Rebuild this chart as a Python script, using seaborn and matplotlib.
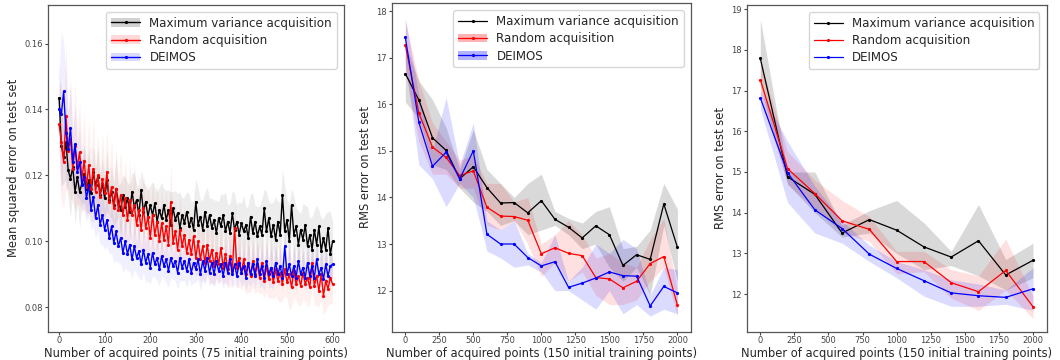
import numpy as np
import pandas as pd
import matplotlib
matplotlib.use("Agg")
import matplotlib.pyplot as plt
from matplotlib.patches import Patch
from matplotlib.lines import Line2D
import seaborn as sns

# ---------------- data ----------------
labels = ["Maximum variance acquisition", "Random acquisition", "DEIMOS"]
colors = ["black", "red", "blue"]

# Panel 1: x = 0..600 step 5
p1_x = list(range(0, 601, 5))
p1_maxvar = [
    0.1435, 0.1290, 0.1255, 0.1300, 0.1215, 0.1190, 0.1225, 0.1150, 0.1195, 0.1150,
    0.1175, 0.1205, 0.1160, 0.1185, 0.1145, 0.1210, 0.1170, 0.1195, 0.1140, 0.1175,
    0.1130, 0.1185, 0.1125, 0.1150, 0.1110, 0.1160, 0.1120, 0.1095, 0.1140, 0.1105,
    0.1130, 0.1090, 0.1150, 0.1105, 0.1125, 0.1080, 0.1155, 0.1090, 0.1120, 0.1075,
    0.1110, 0.1080, 0.1115, 0.1060, 0.1095, 0.1070, 0.1110, 0.1065, 0.1095, 0.1050,
    0.1100, 0.1065, 0.1085, 0.1040, 0.1080, 0.1055, 0.1090, 0.1045, 0.1070, 0.1035,
    0.1120, 0.1050, 0.1075, 0.1035, 0.1090, 0.1045, 0.1080, 0.1040, 0.1065, 0.1025,
    0.1070, 0.1045, 0.1080, 0.1030, 0.1060, 0.1025, 0.1085, 0.1035, 0.1060, 0.1020,
    0.1055, 0.1030, 0.1050, 0.1010, 0.1075, 0.1025, 0.1060, 0.1015, 0.1045, 0.1020,
    0.1100, 0.1030, 0.1070, 0.1015, 0.1050, 0.1005, 0.1060, 0.1020, 0.1140, 0.1030,
    0.1065, 0.1000, 0.1110, 0.1020, 0.1045, 0.0990, 0.1035, 0.1005, 0.1050, 0.0985,
    0.1020, 0.0975, 0.1035, 0.0990, 0.1045, 0.0970, 0.1010, 0.0975, 0.1040, 0.0960,
    0.1000]
p1_random = [
    0.1355, 0.1300, 0.1240, 0.1380, 0.1275, 0.1310, 0.1220, 0.1290, 0.1225, 0.1270,
    0.1190, 0.1245, 0.1165, 0.1230, 0.1160, 0.1220, 0.1150, 0.1200, 0.1135, 0.1190,
    0.1145, 0.1210, 0.1120, 0.1165, 0.1100, 0.1160, 0.1095, 0.1140, 0.1080, 0.1130,
    0.1065, 0.1125, 0.1080, 0.1110, 0.1050, 0.1095, 0.1035, 0.1100, 0.1040, 0.1075,
    0.1010, 0.1080, 0.1020, 0.1060, 0.1000, 0.1055, 0.1005, 0.1045, 0.0990, 0.1120,
    0.0995, 0.1030, 0.0975, 0.1035, 0.0985, 0.1020, 0.0965, 0.1005, 0.0960, 0.1015,
    0.0950, 0.1000, 0.0945, 0.0985, 0.0935, 0.0990, 0.0940, 0.0975, 0.0925, 0.0965,
    0.0930, 0.0980, 0.0920, 0.0960, 0.0915, 0.0955, 0.0910, 0.1040, 0.0920, 0.0950,
    0.0905, 0.0945, 0.0900, 0.0935, 0.0895, 0.0940, 0.0900, 0.0930, 0.0890, 0.0935,
    0.0880, 0.0925, 0.0885, 0.0920, 0.0875, 0.0915, 0.0880, 0.0905, 0.0870, 0.0915,
    0.0875, 0.0900, 0.0860, 0.0910, 0.0870, 0.0895, 0.0865, 0.0905, 0.0870, 0.0890,
    0.0860, 0.0935, 0.0865, 0.0895, 0.0850, 0.0900, 0.0835, 0.0880, 0.0855, 0.0890,
    0.0870]
p1_deimos = [
    0.1400, 0.1385, 0.1455, 0.1330, 0.1280, 0.1345, 0.1240, 0.1295, 0.1210, 0.1240,
    0.1170, 0.1195, 0.1130, 0.1170, 0.1095, 0.1135, 0.1070, 0.1110, 0.1050, 0.1080,
    0.1035, 0.1065, 0.1010, 0.1045, 0.0995, 0.1030, 0.0985, 0.1010, 0.0965, 0.1000,
    0.0960, 0.0990, 0.0945, 0.0985, 0.0950, 0.0970, 0.0930, 0.0975, 0.0935, 0.0960,
    0.0920, 0.0965, 0.0930, 0.0950, 0.0915, 0.0955, 0.0925, 0.0945, 0.0910, 0.0950,
    0.0925, 0.0940, 0.0905, 0.0950, 0.0920, 0.0940, 0.0910, 0.0945, 0.0905, 0.0935,
    0.0915, 0.0945, 0.0900, 0.0940, 0.0910, 0.0950, 0.0905, 0.0935, 0.0900, 0.0940,
    0.0910, 0.0930, 0.0895, 0.0935, 0.0905, 0.0945, 0.0900, 0.0930, 0.0895, 0.0935,
    0.0905, 0.0925, 0.0890, 0.0935, 0.0900, 0.0930, 0.0895, 0.0945, 0.0900, 0.0925,
    0.0890, 0.0940, 0.0900, 0.0920, 0.0895, 0.0935, 0.0900, 0.0925, 0.0890, 0.0985,
    0.0900, 0.0930, 0.0895, 0.0925, 0.0890, 0.0940, 0.0900, 0.0920, 0.0890, 0.0935,
    0.0895, 0.0925, 0.0890, 0.0945, 0.0900, 0.0920, 0.0885, 0.0930, 0.0895, 0.0925,
    0.0930]
p1_maxvar_sd = [
    0.010, 0.012, 0.008, 0.011, 0.009, 0.012, 0.007, 0.010, 0.008, 0.011,
    0.006, 0.009, 0.007, 0.010, 0.006, 0.008, 0.005, 0.009, 0.006, 0.008,
    0.006, 0.009, 0.005, 0.008, 0.006, 0.010, 0.005, 0.008, 0.006, 0.009,
    0.005, 0.008, 0.006, 0.010, 0.005, 0.008, 0.006, 0.009, 0.005, 0.008,
    0.006, 0.010, 0.005, 0.009, 0.007, 0.011, 0.005, 0.009, 0.006, 0.010,
    0.005, 0.009, 0.006, 0.011, 0.005, 0.008, 0.006, 0.010, 0.005, 0.009,
    0.007, 0.011, 0.005, 0.009, 0.006, 0.012, 0.005, 0.009, 0.006, 0.010,
    0.005, 0.010, 0.006, 0.012, 0.005, 0.009, 0.007, 0.011, 0.005, 0.010,
    0.006, 0.011, 0.005, 0.010, 0.007, 0.012, 0.005, 0.009, 0.006, 0.011,
    0.006, 0.012, 0.005, 0.010, 0.007, 0.013, 0.006, 0.010, 0.008, 0.014,
    0.006, 0.011, 0.005, 0.012, 0.006, 0.010, 0.005, 0.011, 0.006, 0.012,
    0.005, 0.010, 0.006, 0.012, 0.005, 0.010, 0.006, 0.011, 0.005, 0.013,
    0.006]
p1_random_sd = [
    0.012, 0.018, 0.014, 0.022, 0.012, 0.018, 0.010, 0.020, 0.011, 0.016,
    0.010, 0.015, 0.009, 0.014, 0.010, 0.016, 0.008, 0.013, 0.009, 0.014,
    0.008, 0.013, 0.009, 0.015, 0.008, 0.012, 0.009, 0.014, 0.008, 0.012,
    0.008, 0.012, 0.007, 0.013, 0.008, 0.011, 0.007, 0.012, 0.008, 0.011,
    0.007, 0.011, 0.008, 0.012, 0.007, 0.010, 0.008, 0.011, 0.007, 0.012,
    0.007, 0.010, 0.006, 0.011, 0.007, 0.009, 0.006, 0.010, 0.007, 0.009,
    0.006, 0.009, 0.007, 0.010, 0.006, 0.009, 0.007, 0.010, 0.006, 0.008,
    0.006, 0.009, 0.005, 0.008, 0.006, 0.009, 0.005, 0.008, 0.006, 0.009,
    0.005, 0.008, 0.006, 0.009, 0.005, 0.008, 0.006, 0.008, 0.005, 0.009,
    0.005, 0.008, 0.006, 0.009, 0.005, 0.008, 0.006, 0.009, 0.005, 0.008,
    0.005, 0.011, 0.006, 0.008, 0.005, 0.009, 0.006, 0.008, 0.005, 0.009,
    0.005, 0.008, 0.006, 0.009, 0.005, 0.008, 0.006, 0.009, 0.005, 0.008,
    0.006]
p1_deimos_sd = [
    0.012, 0.025, 0.015, 0.018, 0.010, 0.014, 0.009, 0.012, 0.008, 0.011,
    0.007, 0.010, 0.007, 0.009, 0.006, 0.009, 0.006, 0.008, 0.006, 0.009,
    0.006, 0.008, 0.005, 0.008, 0.006, 0.009, 0.005, 0.008, 0.006, 0.008,
    0.005, 0.008, 0.006, 0.007, 0.005, 0.008, 0.005, 0.007, 0.006, 0.008,
    0.005, 0.007, 0.004, 0.007, 0.005, 0.006, 0.004, 0.007, 0.005, 0.006,
    0.004, 0.006, 0.005, 0.007, 0.004, 0.006, 0.005, 0.006, 0.004, 0.006,
    0.004, 0.006, 0.005, 0.006, 0.004, 0.005, 0.004, 0.006, 0.004, 0.005,
    0.004, 0.005, 0.004, 0.006, 0.004, 0.005, 0.004, 0.006, 0.004, 0.005,
    0.004, 0.005, 0.004, 0.006, 0.004, 0.005, 0.004, 0.005, 0.004, 0.006,
    0.004, 0.005, 0.004, 0.006, 0.004, 0.005, 0.004, 0.005, 0.004, 0.006,
    0.004, 0.005, 0.004, 0.006, 0.004, 0.005, 0.004, 0.005, 0.004, 0.006,
    0.004, 0.005, 0.004, 0.006, 0.004, 0.005, 0.004, 0.005, 0.004, 0.005,
    0.004]

# Panel 2: x = 0..2000 step 100
p2_x = list(range(0, 2001, 100))
p2_maxvar = [16.66, 16.09, 15.28, 15.01, 14.40, 14.66, 14.21, 13.88, 13.89, 13.67,
             13.93, 13.53, 13.36, 13.13, 13.39, 13.20, 12.54, 12.77, 12.67, 13.86, 12.93]
p2_maxvar_lo = [16.05, 15.70, 14.70, 14.60, 14.20, 13.90, 13.70, 13.40, 13.50, 13.20,
                13.30, 13.40, 13.20, 12.90, 13.00, 12.50, 12.20, 12.50, 11.90, 13.40, 12.20]
p2_maxvar_hi = [17.30, 16.50, 16.10, 15.50, 14.60, 15.45, 14.60, 14.30, 14.00, 14.30,
                14.50, 13.70, 13.55, 13.45, 13.70, 13.80, 12.90, 12.95, 13.30, 14.30, 13.75]
p2_random = [17.28, 15.81, 15.08, 14.86, 14.47, 14.57, 13.79, 13.60, 13.59, 13.51,
             12.79, 12.92, 12.80, 12.75, 12.28, 12.25, 12.06, 12.20, 12.58, 12.73, 11.69]
p2_random_lo = [16.70, 15.20, 14.50, 14.50, 14.20, 14.20, 13.40, 13.30, 13.50, 13.00,
                12.30, 12.60, 12.20, 12.40, 11.90, 11.70, 11.70, 11.80, 12.20, 12.50, 11.45]
p2_random_hi = [17.80, 16.50, 15.60, 15.20, 14.80, 14.90, 14.30, 14.30, 13.90, 14.00,
                13.00, 13.20, 13.50, 13.20, 12.70, 12.80, 12.60, 12.50, 13.10, 13.55, 12.00]
p2_deimos = [17.44, 15.61, 14.67, 14.97, 14.40, 15.00, 13.21, 13.00, 13.00, 12.71,
             12.53, 12.62, 12.07, 12.16, 12.27, 12.40, 12.32, 12.31, 11.67, 12.09, 11.95]
p2_deimos_lo = [16.90, 14.70, 14.40, 13.80, 14.30, 14.00, 12.85, 12.70, 12.50, 12.55,
                12.40, 12.00, 12.00, 11.80, 11.60, 12.00, 11.50, 11.70, 11.45, 11.60, 11.50]
p2_deimos_hi = [17.85, 16.20, 15.00, 16.15, 14.70, 15.60, 13.50, 13.30, 13.50, 12.80,
                12.60, 13.20, 12.20, 12.50, 13.00, 12.80, 13.10, 12.90, 11.90, 12.50, 12.45]

# Panel 3: x = 0..2000 step 200
p3_x = list(range(0, 2001, 200))
p3_maxvar = [17.79, 14.88, 14.45, 13.50, 13.83, 13.57, 13.16, 12.91, 13.31, 12.47, 12.83]
p3_maxvar_lo = [17.10, 14.70, 14.00, 13.40, 13.50, 13.00, 12.60, 12.70, 12.45, 12.10, 12.40]
p3_maxvar_hi = [18.75, 15.00, 15.00, 13.70, 14.05, 14.30, 13.75, 13.05, 14.20, 12.85, 13.25]
p3_random = [17.27, 15.08, 14.47, 13.80, 13.59, 12.80, 12.80, 12.28, 12.06, 12.58, 11.69]
p3_random_lo = [16.90, 14.70, 14.10, 13.50, 13.30, 12.50, 12.55, 11.90, 11.60, 12.10, 11.40]
p3_random_hi = [17.70, 15.50, 14.80, 14.30, 13.90, 13.05, 13.05, 12.60, 12.45, 13.35, 11.95]
p3_deimos = [16.82, 14.98, 14.07, 13.61, 12.98, 12.63, 12.33, 12.03, 11.96, 11.92, 12.13]
p3_deimos_lo = [16.55, 14.25, 13.50, 13.25, 12.80, 12.40, 11.95, 11.70, 11.70, 11.75, 11.60]
p3_deimos_hi = [17.00, 15.75, 14.65, 13.80, 13.20, 12.80, 12.60, 12.35, 12.25, 12.10, 12.65]

xlabel_1 = "Number of acquired points (75 initial training points)"
xlabel_23 = "Number of acquired points (150 initial training points)"
ylabel_1 = "Mean squared error on test set"
ylabel_23 = "RMS error on test set"

# ---------------- style ----------------
sns.set_theme(style="ticks")
plt.rcParams["font.family"] = ["DejaVu Sans"]
plt.rcParams["axes.edgecolor"] = "#555555"
plt.rcParams["axes.linewidth"] = 0.9
plt.rcParams["xtick.color"] = "#444444"
plt.rcParams["ytick.color"] = "#444444"
plt.rcParams["xtick.major.size"] = 2
plt.rcParams["ytick.major.size"] = 2
plt.rcParams["xtick.major.pad"] = 1.5
plt.rcParams["ytick.major.pad"] = 1.5

TICK_FS = 6.0
LABEL_FS = 8.3
LEG_FS = 8.6

fig = plt.figure(figsize=(10.6, 3.6), dpi=100)
ax1 = fig.add_axes([0.045, 0.079, 0.2795, 0.908])
ax2 = fig.add_axes([0.3695, 0.079, 0.2824, 0.912])
ax3 = fig.add_axes([0.7044, 0.079, 0.283, 0.907])


def draw_panel(ax, x, series, bands, fill_alphas, lw, ms, legend_band):
    handles = []
    for (y, band, c, lab, fa, lb) in zip(series, bands, colors, labels, fill_alphas, legend_band):
        lo, hi = band
        ax.fill_between(x, lo, hi, color=c, alpha=fa, linewidth=0)
        df = pd.DataFrame({"x": x, "y": y})
        sns.lineplot(data=df, x="x", y="y", ax=ax, color=c, marker="o",
                     markersize=ms, markeredgewidth=0, linewidth=lw, label=None)
        line = Line2D([], [], color=c, marker="o", markersize=ms,
                      markeredgewidth=0, linewidth=lw)
        if lb:
            patch = Patch(facecolor=c, alpha=min(fa * 2.5, 0.3), edgecolor="none")
            handles.append((patch, line))
        else:
            handles.append(line)
    ax.legend(handles, labels, loc="upper right", fontsize=LEG_FS,
              handlelength=2.4, frameon=True, fancybox=True,
              framealpha=0.8, edgecolor="0.8", borderaxespad=0.6,
              labelspacing=0.35)
    ax.tick_params(labelsize=TICK_FS, width=0.8)


# Panel 1
p1_bands = [
    (np.array(p1_maxvar) - np.array(p1_maxvar_sd), np.array(p1_maxvar) + np.array(p1_maxvar_sd)),
    (np.array(p1_random) - np.array(p1_random_sd), np.array(p1_random) + np.array(p1_random_sd)),
    (np.array(p1_deimos) - np.array(p1_deimos_sd), np.array(p1_deimos) + np.array(p1_deimos_sd)),
]
draw_panel(ax1, p1_x, [p1_maxvar, p1_random, p1_deimos], p1_bands,
           [0.07, 0.06, 0.06], 1.0, 2.3, [True, True, True])
ax1.set_xlim(-25, 625)
ax1.set_ylim(0.0726, 0.1718)
ax1.set_xticks([0, 100, 200, 300, 400, 500, 600])
ax1.set_yticks([0.08, 0.10, 0.12, 0.14, 0.16])
ax1.set_xlabel(xlabel_1, fontsize=LABEL_FS, labelpad=1)
ax1.set_ylabel(ylabel_1, fontsize=LABEL_FS, labelpad=3)

# Panel 2
draw_panel(ax2, p2_x, [p2_maxvar, p2_random, p2_deimos],
           [(p2_maxvar_lo, p2_maxvar_hi), (p2_random_lo, p2_random_hi), (p2_deimos_lo, p2_deimos_hi)],
           [0.15, 0.12, 0.14], 0.9, 2.3, [False, True, True])
ax2.set_xlim(-100, 2100)
ax2.set_ylim(11.12, 18.17)
ax2.set_xticks([0, 250, 500, 750, 1000, 1250, 1500, 1750, 2000])
ax2.set_yticks([12, 13, 14, 15, 16, 17, 18])
ax2.set_xlabel(xlabel_23, fontsize=LABEL_FS, labelpad=1)
ax2.set_ylabel(ylabel_23, fontsize=LABEL_FS, labelpad=3)

# Panel 3
draw_panel(ax3, p3_x, [p3_maxvar, p3_random, p3_deimos],
           [(p3_maxvar_lo, p3_maxvar_hi), (p3_random_lo, p3_random_hi), (p3_deimos_lo, p3_deimos_hi)],
           [0.15, 0.12, 0.14], 0.9, 2.3, [False, False, False])
ax3.set_xlim(-100, 2100)
ax3.set_ylim(11.08, 19.1)
ax3.set_xticks([0, 250, 500, 750, 1000, 1250, 1500, 1750, 2000])
ax3.set_yticks([12, 13, 14, 15, 16, 17, 18, 19])
ax3.set_xlabel(xlabel_23, fontsize=LABEL_FS, labelpad=1)
ax3.set_ylabel(ylabel_23, fontsize=LABEL_FS, labelpad=3)

fig.savefig("out.png", dpi=100, facecolor="white")
